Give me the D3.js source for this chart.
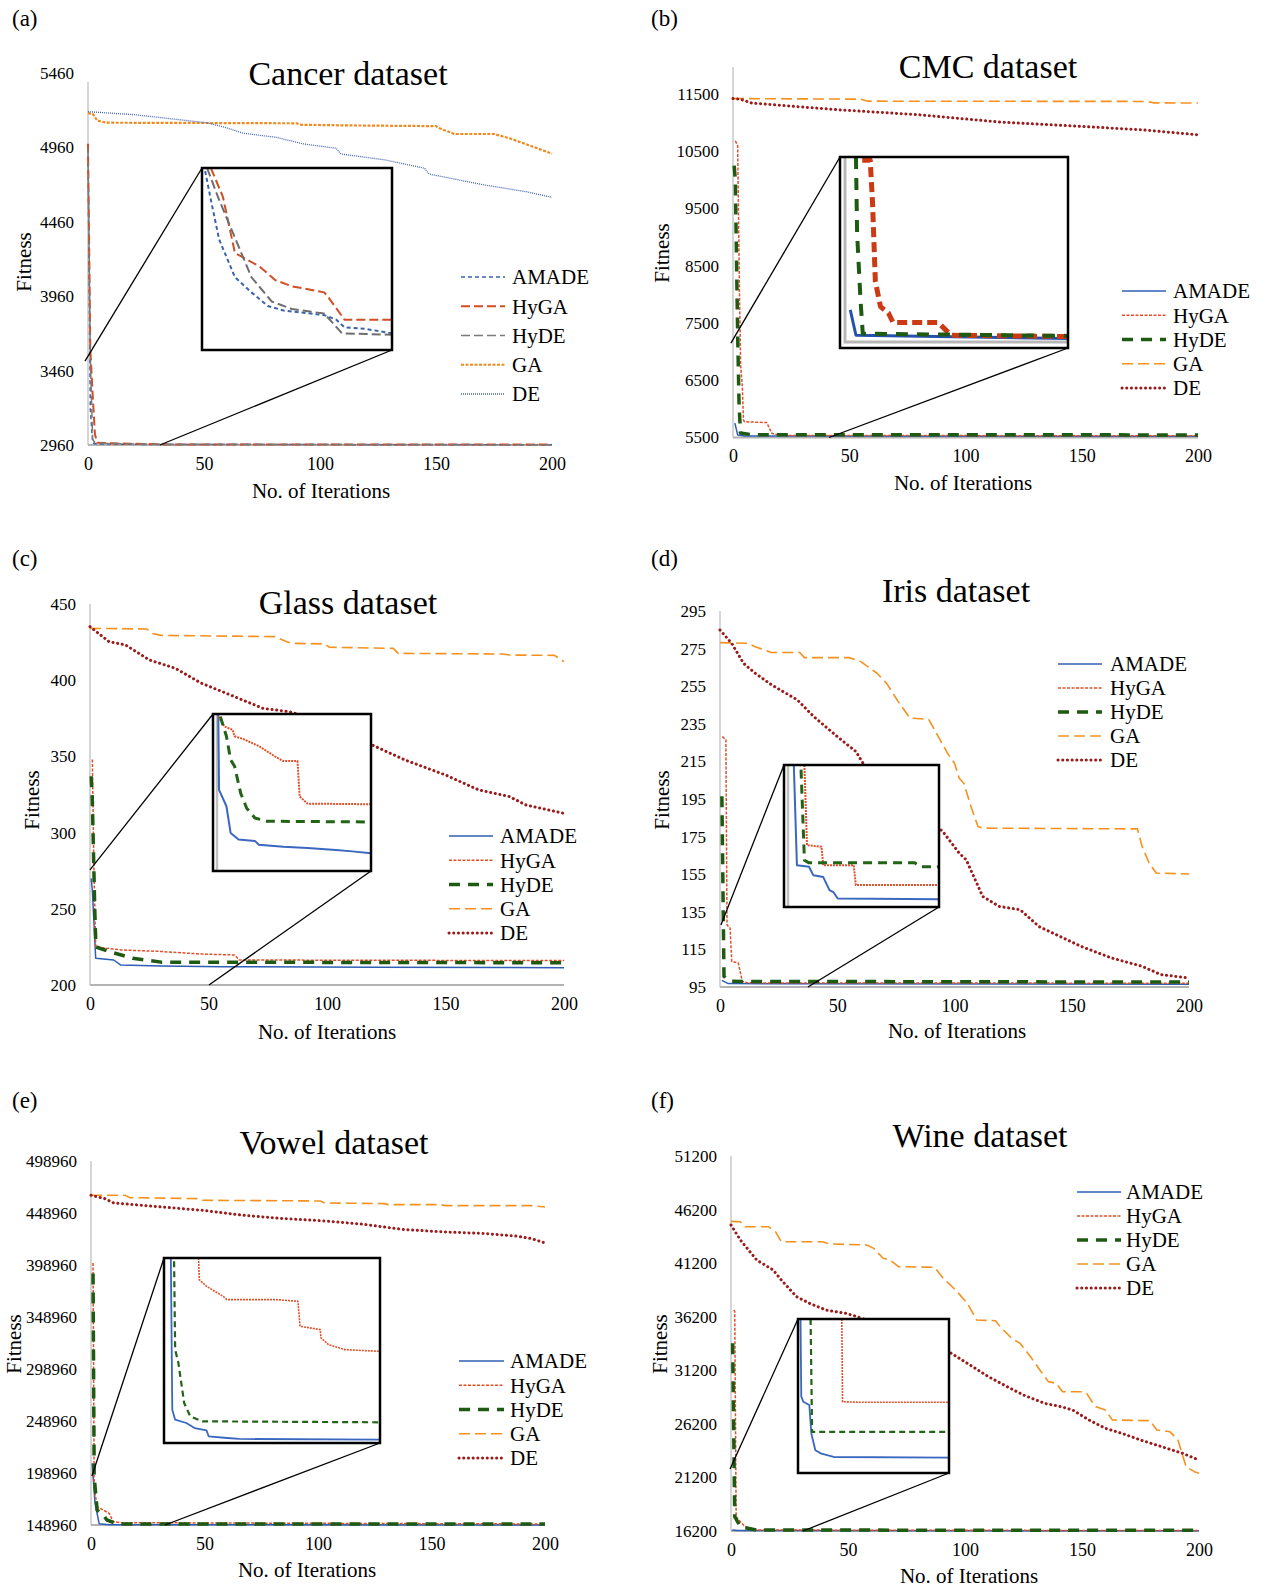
<!DOCTYPE html>
<meta charset="utf-8">
<style>
body { margin: 0; background: #fff; }
svg { display: block; font-family: "Liberation Serif", "Times New Roman", serif; }
.ytick { font-size: 17px; fill: #000; }
.xtick { font-size: 18px; fill: #000; }
.axis-title { font-size: 21px; fill: #000; }
.chart-title { font-size: 34px; fill: #000; }
.letter { font-size: 23px; fill: #000; }
.legend text { font-size: 21px; fill: #000; }
</style>
<body>
<script src="https://d3js.org/d3.v7.min.js"></script>
<script>

var width = 1270,
    height = 1589;

var seriesNames = ["AMADE", "HyGA", "HyDE", "GA", "DE"];
var iterTicks = [0, 50, 100, 150, 200];

// (a) Cancer
var cancerTicks = [2960, 3460, 3960, 4460, 4960, 5460];
var cancerAMADE = [[0,4900],[1,3200],[2,2975],[3,2968],[10,2966],[30,2963],[200,2962]];
var cancerHyGA = [[0,4985],[1,3600],[2,3300],[3,3030],[4,2975],[10,2972],[20,2968],[35,2964],[200,2963]];
var cancerHyDE = [[0,4950],[1,3550],[2,3000],[3,2975],[10,2970],[30,2965],[200,2962]];
var cancerGA = [[0,5190],[2,5185],[4,5140],[8,5126],[50,5124],[90,5122],[92,5112],[110,5108],[150,5103],[152,5085],[158,5050],[175,5050],[182,5020],[190,4975],[200,4918]];
var cancerDE = [[0,5200],[20,5180],[40,5145],[51,5126],[60,5090],[67,5055],[81,5028],[93,4983],[107,4954],[109,4916],[128,4876],[145,4820],[147,4781],[171,4707],[189,4662],[200,4624]];
var cancerInsetAMADE = [[2.5,2974.8],[3.4,2972.9],[4.7,2970.3],[7.2,2967.8],[9.8,2966.8],[12.4,2965.9],[14.9,2965.6],[21.3,2965.3],[23.2,2965.0],[24.5,2964.5],[27.7,2964.4],[32,2964.1]];
var cancerInsetHyGA = [[3.4,2975.0],[5.3,2973.1],[7.2,2969.4],[11.1,2968.5],[13.6,2967.6],[16.2,2967.2],[21.3,2966.8],[21.9,2966.5],[24.5,2965.0],[32,2965.0]];
var cancerInsetHyDE = [[2.8,2975.0],[4.7,2972.9],[6.9,2970.7],[9.8,2967.8],[13.0,2966.2],[16.2,2965.7],[21.3,2965.4],[22.6,2964.8],[24.1,2964.1],[32,2964.0]];

// (b) CMC
var cmcTicks = [5500, 6500, 7500, 8500, 9500, 10500, 11500];
var cmcAMADE = [[0.8,5750],[2,5545],[5,5525],[200,5520]];
var cmcHyGA = [[1,10680],[2,10600],[2.8,8000],[3.3,6750],[4,6400],[4.5,5800],[5,5776],[14.5,5760],[16.7,5573],[20,5535],[200,5530]];
var cmcHyDE = [[0.5,10250],[1,10000],[2,7300],[2.6,6100],[3.2,5580],[8,5550],[200,5545]];
var cmcGA = [[0,11420],[55,11410],[58,11375],[178,11370],[181,11345],[200,11342]];
var cmcDE = [[0,11420],[3,11410],[8,11342],[45,11225],[80,11137],[115,11009],[150,10933],[176,10875],[200,10787]];
var cmcInsetAMADE = [[1.8,5512],[2.8,5504],[40,5503]];
var cmcInsetHyGA = [[3.9,5559],[5.3,5559],[5.7,5546],[6.2,5521],[7.1,5513],[8.5,5511],[9.3,5508],[17.2,5508],[19.5,5504],[40,5503.6]];
var cmcInsetHyDE = [[2.8,5560],[3.0,5536],[3.6,5515],[4.0,5504.5],[40,5503.8]];

// (c) Glass
var glassTicks = [200, 250, 300, 350, 400, 450];
var glassAMADE = [[0.5,270],[1,262],[2.4,217.5],[10,216.4],[13,213.1],[30,212.5],[56,212],[120,211.6],[200,211.4]];
var glassHyGA = [[1,348],[1.6,280],[2.4,225],[13,223],[30,222],[47,220.3],[61,219.7],[63,216.4],[200,216]];
var glassHyDE = [[0.5,337],[1,320],[2,250],[2.5,225],[8,222],[18,217.5],[30,215],[200,214.6]];
var glassGA = [[0,434],[24,433.6],[26,430.8],[30,429.4],[78,428.6],[83,425.3],[85,424.2],[99,423.8],[101,421.6],[128,420.9],[130,417.6],[174,417.2],[177,416.5],[196,416.3],[200,412.2]];
var glassDE = [[0,435.1],[8,425.3],[15,423.1],[25,413.3],[36,407.8],[47,398],[61,389.2],[73,381.5],[84,379.4],[100,372],[119,357.5],[133,347.6],[150,337.8],[164,328],[177,323.6],[184,318.1],[200,312.6]];
var glassInsetAMADE = [[2,232],[2.3,220.4],[5.1,217.9],[6.7,213.8],[9.7,212.8],[15.9,212.6],[17.4,212],[26.7,211.7],[35.9,211.5],[46.7,211.2],[52.9,211],[60,210.7]];
var glassInsetHyGA = [[2,231.6],[4.3,230.1],[7.4,229.6],[8.2,228.6],[11.3,228.2],[17.4,227.1],[23.6,225.5],[26.7,224.8],[32.1,224.8],[32.9,219.4],[35.9,218.3],[60,218.2]];
var glassInsetHyDE = [[2.8,231.6],[5.1,228.6],[6.7,225],[8.2,224],[10.5,219.9],[12.8,217.6],[15.9,216.1],[20.5,215.6],[60,215.5]];

// (d) Iris
var irisTicks = [95, 115, 135, 155, 175, 195, 215, 235, 255, 275, 295];
var irisAMADE = [[0.8,98.5],[3.5,96.8],[200,96.4]];
var irisHyGA = [[1,228.2],[2.5,226.5],[3,128],[4.3,126.4],[5,108.6],[7.8,107.8],[9.5,98],[12,97.2],[200,97]];
var irisHyDE = [[0.8,196.5],[1.7,100.7],[3,99],[5,98],[200,97.6]];
var irisGA = [[0,278.2],[12,277.8],[15,276],[22,272.9],[34,272.9],[36,270.2],[55,270.2],[60,268.1],[67,261.9],[71,256.6],[76,246.8],[81,238],[89,237.4],[97,219.4],[100,214],[102,206],[104,203.4],[107,191],[110,180.4],[112,179.5],[178,179.1],[180,169.8],[183,160.9],[186,155.6],[200,155.1]];
var irisDE = [[0,284.9],[5,277.8],[10,267.2],[15,261.9],[22,255.7],[33,247.7],[40,238.8],[50,228.2],[58,220.2],[61,214],[78,196],[95,177.7],[102,166.2],[105,162.7],[112,143.2],[119,137.9],[128,136.1],[136,127.2],[145,121.9],[154,116.6],[167,110.4],[180,106],[188,101.6],[200,99.8]];
var irisInsetAMADE = [[3.8,100],[5,97.39],[9.7,97.35],[11.3,97.13],[15.2,97.08],[17.6,96.74],[19.1,96.69],[20.8,96.52],[60,96.5]];
var irisInsetHyGA = [[7.9,100],[8.9,97.91],[14.5,97.87],[15.2,97.39],[27,97.39],[27.8,96.87],[60,96.87]];
var irisInsetHyDE = [[6.6,99.88],[7.9,97.52],[9.7,97.45],[50.6,97.45],[52.9,97.35],[60,97.35]];

// (e) Vowel
var vowelTicks = [148960, 198960, 248960, 298960, 348960, 398960, 448960, 498960];
var vowelAMADE = [[0.5,208200],[1.8,169770],[3.6,150200],[8,149200],[200,148960]];
var vowelHyGA = [[0.9,400980],[1.4,185790],[2.7,166570],[5.4,163370],[8,160170],[9.8,152160],[13.4,151200],[103,150560],[200,149920]];
var vowelHyDE = [[0.9,390730],[1.4,195390],[2.7,163370],[5.4,158570],[7,153760],[11.6,149920],[200,149920]];
var vowelGA = [[0,465980],[15,465980],[17,463740],[47,462780],[49,461170],[101,460530],[103,458610],[129,457970],[131,457010],[154,457010],[156,456050],[194,456050],[200,454770]];
var vowelDE = [[0,465980],[6,462780],[10,458610],[31,454770],[49,451570],[67,446770],[85,443560],[103,441320],[120,438120],[129,435560],[138,433000],[156,430760],[174,429160],[188,426590],[194,424350],[200,420190]];
var vowelInsetAMADE = [[1.9,151000],[2.3,149278],[3.1,149165],[6.2,149127],[8.5,149070],[11.8,149043],[12.4,148976],[17.5,148957],[20.9,148946],[60,148938]];
var vowelInsetHyGA = [[9.6,151000],[9.8,150754],[11.8,150679],[16.4,150565],[17.5,150528],[31,150528],[37.2,150509],[37.8,150225],[43.4,150187],[43.6,150093],[45.7,150017],[50.2,149960],[60,149940]];
var vowelInsetHyDE = [[2.8,150962],[3.1,149960],[4,149807],[5.6,149354],[7.3,149202],[10.7,149146],[60,149135]];

// (f) Wine
var wineTicks = [16200, 21200, 26200, 31200, 36200, 41200, 46200, 51200];
var wineAMADE = [[0.5,16300],[3,16240],[200,16220]];
var wineHyGA = [[1.2,36830],[1.6,36700],[2.2,17540],[3.3,17230],[6,16600],[11,16290],[200,16240]];
var wineHyDE = [[0.7,33720],[1.6,17540],[4,16600],[11,16290],[200,16260]];
var wineGA = [[0,45100],[4,45070],[6,44600],[16,44600],[19,44140],[21.5,43200],[39,43200],[42,42990],[58,42900],[61,42580],[65,41650],[68,41490],[71.6,40870],[87,40810],[90.7,39780],[96,38690],[101,37450],[105,35890],[113,35830],[115,35270],[120,34180],[123.5,33720],[128,32470],[132,31230],[135.6,30140],[139,29980],[141.7,29200],[149.5,29200],[152,29050],[154.7,28120],[156,27800],[160,27490],[163,26560],[179,26500],[182,25630],[187.5,25470],[191,24690],[194.5,22200],[198,21740],[200,21580]];
var wineDE = [[0,44760],[4,43360],[11,41493],[18,40560],[21.5,39627],[28,38071],[33.6,37449],[40.5,36827],[49,36516],[54,36204],[75,34500],[93,32938],[101,31849],[110,30604],[118,29671],[125,28893],[134,28115],[141,27804],[146,27493],[153,26560],[160,25782],[167,25316],[175,24693],[184,24071],[193,23449],[200,22827]];
var wineInsetAMADE = [[1,16300],[1.3,16249.6],[2.1,16246.3],[4.5,16244.1],[5.3,16225.7],[6.9,16214.8],[9.3,16212.6],[14.2,16210.4],[60,16210]];
var wineInsetHyGA = [[17.4,16300],[17.7,16246.3],[25.4,16245.9],[60,16245.9]];
var wineInsetHyDE = [[5,16300],[5.6,16226.7],[60,16226.7]];

// line styles
var styleA = {
  AMADE: {color: "#3b64ad", width: 1.5, dash: "4,3"},
  HyGA:  {color: "#d24e24", width: 2, dash: "9,4"},
  HyDE:  {color: "#7a7a7a", width: 1.5, dash: "9,4"},
  GA:    {color: "#f08a1e", width: 2.2, dash: "3,1.5"},
  DE:    {color: "#4566b0", width: 1.3, dash: "1,1"}
};
var styleB = {
  AMADE: {color: "#2f5eb4", width: 1.5},
  HyGA:  {color: "#e0502a", width: 1.5, dash: "3,1.5"},
  HyDE:  {color: "#1e5a12", width: 3.5, dash: "11,8"},
  GA:    {color: "#f5911e", width: 1.6, dash: "11,5"},
  DE:    {color: "#9b1a1a", width: 3, dash: "0.1,4.6", cap: "round"}
};
var insetStyleA = {
  AMADE: {color: "#3b64ad", width: 2, dash: "4,3"},
  HyGA:  {color: "#d24e24", width: 2, dash: "9,4"},
  HyDE:  {color: "#6e6e6e", width: 2, dash: "9,4"}
};
var insetStyleB = {
  AMADE: {color: "#2552b0", width: 3},
  HyGA:  {color: "#cc3a14", width: 5, dash: "10,5"},
  HyDE:  {color: "#1e5a12", width: 4, dash: "12,9"}
};
var insetStyleC = {
  AMADE: {color: "#3a68c0", width: 2},
  HyGA:  {color: "#e0502a", width: 2, dash: "2,1"},
  HyDE:  {color: "#226416", width: 3, dash: "9,6"}
};
var insetStyleE = {
  AMADE: {color: "#3a68c0", width: 1.8},
  HyGA:  {color: "#e0502a", width: 1.6, dash: "2,1"},
  HyDE:  {color: "#226416", width: 2.2, dash: "6,4"}
};

var panels = [
  {letter: "(a)", title: "Cancer dataset", ticks: cancerTicks, style: styleA,
   data: {AMADE: cancerAMADE, HyGA: cancerHyGA, HyDE: cancerHyDE, GA: cancerGA, DE: cancerDE},
   inset: {x: [2, 32], y: [2963, 2975], style: insetStyleA, from: [[-1.3, 3524], [31, 2960]], frame: "",
           data: {AMADE: cancerInsetAMADE, HyGA: cancerInsetHyGA, HyDE: cancerInsetHyDE}},
   box: {x0: 88, x1: 552, yTop: 73, yBot: 445, axisTop: 82, letter: [12, 18], title: [348, 73],
         xlab: [321, 491], ylab: [24, 262], legend: [461, 505, 512, 277, 29.25], inset: [202, 168, 392, 350]}},
  {letter: "(b)", title: "CMC dataset", ticks: cmcTicks, style: styleB,
   data: {AMADE: cmcAMADE, HyGA: cmcHyGA, HyDE: cmcHyDE, GA: cmcGA, DE: cmcDE},
   inset: {x: [0, 40], y: [5500, 5560], style: insetStyleB, from: [[-0.9, 7149], [41.3, 5500]], frame: "both",
           data: {AMADE: cmcInsetAMADE, HyGA: cmcInsetHyGA, HyDE: cmcInsetHyDE}},
   box: {x0: 733, x1: 1198, yTop: 94, yBot: 437.5, axisTop: 67, letter: [651, 18], title: [988, 66],
         xlab: [963, 482.5], ylab: [662, 253], legend: [1122, 1166, 1173, 291, 24.25], inset: [840, 157, 1068, 348]}},
  {letter: "(c)", title: "Glass dataset", ticks: glassTicks, style: styleB,
   data: {AMADE: glassAMADE, HyGA: glassHyGA, HyDE: glassHyDE, GA: glassGA, DE: glassDE},
   inset: {x: [0, 60], y: [208, 232], style: insetStyleC, from: [[0, 275.5], [50.2, 200]], frame: "left",
           data: {AMADE: glassInsetAMADE, HyGA: glassInsetHyGA, HyDE: glassInsetHyDE}},
   box: {x0: 90, x1: 564, yTop: 604, yBot: 985, axisTop: 604, letter: [12, 558], title: [348, 602],
         xlab: [327, 1032], ylab: [32, 800], legend: [449, 493, 500, 836, 24.25], inset: [213, 714, 371, 871]}},
  {letter: "(d)", title: "Iris dataset", ticks: irisTicks, style: styleB,
   data: {AMADE: irisAMADE, HyGA: irisHyGA, HyDE: irisHyDE, GA: irisGA, DE: irisDE},
   inset: {x: [0, 60], y: [96.3, 100], style: insetStyleC, from: [[0.4, 128], [37.5, 95]], frame: "left",
           data: {AMADE: irisInsetAMADE, HyGA: irisInsetHyGA, HyDE: irisInsetHyDE}},
   box: {x0: 720, x1: 1189, yTop: 611, yBot: 987, axisTop: 611, letter: [651, 558], title: [956, 590],
         xlab: [957, 1031], ylab: [662, 800], legend: [1058, 1102, 1110, 664, 24], inset: [784, 765, 939, 907]}},
  {letter: "(e)", title: "Vowel dataset", ticks: vowelTicks, style: styleB,
   data: {AMADE: vowelAMADE, HyGA: vowelHyGA, HyDE: vowelHyDE, GA: vowelGA, DE: vowelDE},
   inset: {x: [0, 60], y: [148900, 151000], style: insetStyleE, from: [[0.4, 196075], [32.6, 148960]], frame: "",
           data: {AMADE: vowelInsetAMADE, HyGA: vowelInsetHyGA, HyDE: vowelInsetHyDE}},
   box: {x0: 91, x1: 545, yTop: 1161, yBot: 1525, axisTop: 1161, letter: [12, 1100], title: [334, 1142],
         xlab: [307, 1570], ylab: [14, 1344], legend: [459, 504, 510, 1361, 24.25], inset: [164, 1258, 380, 1443]}},
  {letter: "(f)", title: "Wine dataset", ticks: wineTicks, style: styleB,
   data: {AMADE: wineAMADE, HyGA: wineHyGA, HyDE: wineHyDE, GA: wineGA, DE: wineDE},
   inset: {x: [0, 60], y: [16200, 16300], style: insetStyleE, from: [[-0.4, 21987], [30.8, 16200]], frame: "",
           data: {AMADE: wineInsetAMADE, HyGA: wineInsetHyGA, HyDE: wineInsetHyDE}},
   box: {x0: 731, x1: 1199, yTop: 1156, yBot: 1531, axisTop: 1156, letter: [651, 1100], title: [980, 1135],
         xlab: [969, 1576], ylab: [660, 1344], legend: [1077, 1121, 1126, 1192, 24], inset: [798, 1319, 949, 1473]}}
];

var svg = d3.select("body").append("svg")
    .attr("width", width)
    .attr("height", height);

var defs = svg.append("defs");

function applyStyle(sel, s) {
  sel.attr("fill", "none")
     .attr("stroke", s.color)
     .attr("stroke-width", s.width)
     .attr("stroke-dasharray", s.dash || null)
     .attr("stroke-linecap", s.cap || "butt")
     .attr("stroke-linejoin", "round");
}

var drawOrder = ["GA", "DE", "AMADE", "HyGA", "HyDE"];

panels.forEach(function(p, i) {
  var b = p.box;
  var g = svg.append("g");

  var x = d3.scaleLinear().domain([0, 200]).range([b.x0, b.x1]);
  var y = d3.scaleLinear()
      .domain([p.ticks[0], p.ticks[p.ticks.length - 1]])
      .range([b.yBot, b.yTop]);

  // axes (labels only, lines drawn below)
  var yAxis = g.append("g")
      .attr("transform", "translate(" + b.x0 + ",0)")
      .call(d3.axisLeft(y).tickValues(p.ticks).tickSize(0).tickPadding(14).tickFormat(d3.format("d")));
  yAxis.attr("font-family", null).attr("font-size", null);
  yAxis.select(".domain").remove();
  yAxis.selectAll("text").attr("class", "ytick");

  var xAxis = g.append("g")
      .attr("transform", "translate(0," + b.yBot + ")")
      .call(d3.axisBottom(x).tickValues(iterTicks).tickSize(0).tickPadding(12));
  xAxis.attr("font-family", null).attr("font-size", null);
  xAxis.select(".domain").remove();
  xAxis.selectAll("text").attr("class", "xtick");

  g.append("line")
      .attr("x1", b.x0).attr("x2", b.x0)
      .attr("y1", b.axisTop).attr("y2", b.yBot)
      .attr("stroke", "#c8c8c8").attr("stroke-width", 1.5);
  g.append("line")
      .attr("x1", b.x0).attr("x2", b.x1)
      .attr("y1", b.yBot).attr("y2", b.yBot)
      .attr("stroke", "#b4b4b4").attr("stroke-width", 2);

  // series
  var line = d3.line()
      .x(function(d) { return x(d[0]); })
      .y(function(d) { return y(d[1]); });

  drawOrder.forEach(function(name) {
    g.append("path")
        .datum(p.data[name])
        .attr("d", line)
        .call(applyStyle, p.style[name]);
  });

  // zoom connectors
  var r = b.inset;
  var from = p.inset.from;
  g.append("line")
      .attr("x1", x(from[0][0])).attr("y1", y(from[0][1]))
      .attr("x2", r[0]).attr("y2", r[1])
      .attr("stroke", "#000").attr("stroke-width", 1.3);
  g.append("line")
      .attr("x1", x(from[1][0])).attr("y1", y(from[1][1]))
      .attr("x2", r[2]).attr("y2", r[3])
      .attr("stroke", "#000").attr("stroke-width", 1.3);

  // inset
  var ig = g.append("g");
  var clipId = "clip" + i;
  defs.append("clipPath").attr("id", clipId)
    .append("rect")
      .attr("x", r[0]).attr("y", r[1])
      .attr("width", r[2] - r[0]).attr("height", r[3] - r[1]);

  ig.append("rect")
      .attr("x", r[0]).attr("y", r[1])
      .attr("width", r[2] - r[0]).attr("height", r[3] - r[1])
      .attr("fill", "#fff");

  var ix = d3.scaleLinear().domain(p.inset.x).range([r[0], r[2]]);
  var iy = d3.scaleLinear().domain(p.inset.y).range([r[3], r[1]]);
  var iline = d3.line()
      .x(function(d) { return ix(d[0]); })
      .y(function(d) { return iy(d[1]); });

  var inner = ig.append("g").attr("clip-path", "url(#" + clipId + ")");
  if (p.inset.frame === "both") {
    inner.append("path")
        .attr("d", "M" + (r[0] + 5) + "," + r[1] + "V" + (r[3] - 6) + "H" + r[2])
        .attr("fill", "none").attr("stroke", "#b8b8b8").attr("stroke-width", 3);
  } else if (p.inset.frame === "left") {
    inner.append("line")
        .attr("x1", r[0] + 4).attr("x2", r[0] + 4)
        .attr("y1", r[1]).attr("y2", r[3])
        .attr("stroke", "#c0c0c0").attr("stroke-width", 2.5);
  }
  ["AMADE", "HyGA", "HyDE"].forEach(function(name) {
    inner.append("path")
        .datum(p.inset.data[name])
        .attr("d", iline)
        .call(applyStyle, p.inset.style[name]);
  });
  ig.append("rect")
      .attr("x", r[0]).attr("y", r[1])
      .attr("width", r[2] - r[0]).attr("height", r[3] - r[1])
      .attr("fill", "none").attr("stroke", "#000").attr("stroke-width", 2.5);

  // legend
  var lg = g.append("g").attr("class", "legend");
  seriesNames.forEach(function(name, k) {
    var ly = b.legend[3] + k * b.legend[4];
    lg.append("line")
        .attr("x1", b.legend[0]).attr("x2", b.legend[1])
        .attr("y1", ly).attr("y2", ly)
        .call(applyStyle, p.style[name]);
    lg.append("text")
        .attr("x", b.legend[2]).attr("y", ly)
        .attr("dy", "0.35em")
        .text(name);
  });

  // texts
  g.append("text").attr("class", "letter")
      .attr("x", b.letter[0]).attr("y", b.letter[1]).attr("dy", "0.35em")
      .text(p.letter);
  g.append("text").attr("class", "chart-title")
      .attr("x", b.title[0]).attr("y", b.title[1]).attr("dy", "0.35em")
      .attr("text-anchor", "middle")
      .text(p.title);
  g.append("text").attr("class", "axis-title")
      .attr("x", b.xlab[0]).attr("y", b.xlab[1]).attr("dy", "0.35em")
      .attr("text-anchor", "middle")
      .text("No. of Iterations");
  g.append("text").attr("class", "axis-title")
      .attr("transform", "translate(" + b.ylab[0] + "," + b.ylab[1] + ")rotate(-90)")
      .attr("dy", "0.35em")
      .attr("text-anchor", "middle")
      .text("Fitness");
});

</script>
